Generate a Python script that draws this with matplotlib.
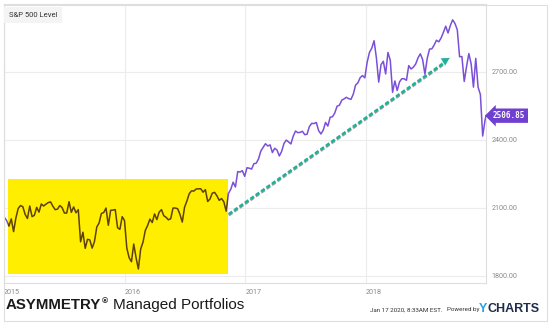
import pandas as pd
import matplotlib.pyplot as plt
import matplotlib.dates as mdates
from matplotlib.patches import Rectangle

# Weekly S&P 500 closes (Fridays), Jan 2015 - Dec 2018
close_2015 = [2058, 2044, 2019, 2051, 1995, 2055, 2097, 2110, 2105, 2071, 2053, 2108, 2061,
              2067, 2102, 2081, 2117, 2108, 2116, 2123, 2126, 2107, 2092, 2094, 2110, 2101,
              2077, 2077, 2127, 2080, 2104, 2078, 2092, 1950, 1992, 1921, 1961, 1958, 1922,
              1951, 2015, 2033, 2075, 2079, 2099, 2023, 2089, 2090, 2092, 2012, 2005, 2061]
close_2016 = [2044, 1922, 1880, 1862, 1940, 1880, 1830, 1918, 1948, 2000, 2022, 2050, 2035,
              2073, 2048, 2081, 2092, 2065, 2058, 2047, 2052, 2099, 2099, 2096, 2071, 2037,
              2103, 2130, 2162, 2175, 2174, 2183, 2184, 2184, 2169, 2180, 2128, 2139, 2165,
              2168, 2153, 2133, 2141, 2126, 2085, 2164, 2182, 2213, 2192, 2260, 2258, 2264, 2239]
close_2017 = [2277, 2275, 2271, 2295, 2297, 2316, 2351, 2367, 2383, 2373, 2378, 2344, 2363,
              2355, 2329, 2349, 2384, 2399, 2391, 2382, 2416, 2439, 2432, 2433, 2438, 2423,
              2425, 2459, 2473, 2472, 2477, 2441, 2426, 2443, 2477, 2461, 2500, 2502, 2519,
              2549, 2553, 2575, 2581, 2588, 2582, 2579, 2602, 2642, 2652, 2675, 2684, 2674]
close_2018 = [2743, 2786, 2805, 2838, 2762, 2655, 2732, 2747, 2691, 2786, 2752, 2610, 2660,
              2618, 2656, 2670, 2670, 2663, 2728, 2713, 2721, 2735, 2762, 2780, 2755, 2690,
              2760, 2801, 2802, 2819, 2840, 2833, 2850, 2875, 2902, 2872, 2905, 2930, 2914,
              2886, 2767, 2768, 2658, 2723, 2781, 2736, 2633, 2760, 2633, 2600, 2417, 2486]
last_date = "2018-12-31"
last_close = 2506.85

y_ticks = [1800, 2100, 2400, 2700]
x_ticks = ["2015", "2016", "2017", "2018"]

values = close_2015 + close_2016 + close_2017 + close_2018
dates = list(pd.date_range("2015-01-02", periods=len(values), freq="W-FRI"))
dates.append(pd.Timestamp(last_date))
values.append(last_close)
dates = pd.to_datetime(dates)

purple = "#7a4fd9"
yellow = "#ffee00"
brown = "#5e4108"
teal = "#22b098"

fig = plt.figure(figsize=(5.49, 3.24), dpi=100)
W, H = 549, 324
ax = fig.add_axes([4 / W, 1 - 283 / H, (486 - 4) / W, (283 - 4) / H])

ax.plot(dates, values, color=purple, lw=1.1, zorder=3)

# highlighted range 2015 - late 2016
box_x0 = mdates.date2num(pd.Timestamp("2015-01-14"))
box_x1 = mdates.date2num(pd.Timestamp("2016-11-10"))
box = Rectangle((box_x0, 1806), box_x1 - box_x0, 2228 - 1806,
                facecolor=yellow, edgecolor="none", zorder=4)
ax.add_patch(box)
inner, = ax.plot(dates, values, color=brown, lw=1.1, zorder=5)
inner.set_clip_path(box)

# dashed trend arrow with a soft shadow
x0 = mdates.date2num(pd.Timestamp("2016-11-12"))
x1 = mdates.date2num(pd.Timestamp("2018-08-28"))
xt = mdates.date2num(pd.Timestamp("2018-09-12"))
y0, y1, yt = 2072, 2742, 2762
dash = (0, (1.6, 0.9))
ax.plot([x0, x1], [y0 - 5, y1 - 5], color="#a0a0a0", lw=1.9, ls=dash,
        solid_capstyle="butt", zorder=5)
ax.plot([x0, x1], [y0, y1], color=teal, lw=1.9, ls=dash, zorder=6)
ax.annotate("", xy=(xt, yt), xytext=(x1 - 15, y1 - 6),
            arrowprops=dict(arrowstyle="-|>,head_length=0.55,head_width=0.3",
                            color=teal, lw=0.1, shrinkA=0, shrinkB=0),
            zorder=6)

ax.set_xlim(pd.Timestamp("2015-01-03"), pd.Timestamp("2018-12-31"))
ax.set_ylim(1768, 3000)
ax.set_yticks(y_ticks)
ax.set_yticklabels([f"{v:.2f}" for v in y_ticks])
ax.set_xticks(pd.to_datetime([f"{y}-01-01" for y in x_ticks]))
ax.set_xticklabels(x_ticks)
ax.yaxis.tick_right()
ax.tick_params(length=0, labelsize=5.2, labelcolor="#8a8a8a", pad=4)
for lab in ax.get_xticklabels() + ax.get_yticklabels():
    lab.set_family("Roboto")
for lab in ax.get_xticklabels():
    lab.set_horizontalalignment("left")
ax.grid(True, color="#ececec", lw=0.8)
ax.set_axisbelow(True)
for s in ax.spines.values():
    s.set_color("#dedede")
    s.set_linewidth(0.8)

# last value marker
ax.annotate(f"{last_close:.2f}", xy=(1.0, last_close), xycoords=ax.get_yaxis_transform(),
            xytext=(5, 0), textcoords="offset points", va="center", ha="left",
            fontsize=5.5, fontweight="bold", family="DejaVu Sans Mono", color="white",
            bbox=dict(boxstyle="larrow,pad=0.35", fc="#6f3fd0", ec="none"),
            annotation_clip=False, zorder=10)

# chart title tag
fig.text(9 / W, 1 - 15 / H, "S&P 500 Level", fontsize=5.5, family="Roboto",
         color="#333333", va="center", ha="left",
         bbox=dict(boxstyle="square,pad=0.6", fc="#f4f4f4", ec="none"))

# outer frame
fig.add_artist(Rectangle((4 / W, 3 / H), (547 - 4) / W, (320 - 4) / H,
                         transform=fig.transFigure, fill=False,
                         ec="#dedede", lw=0.8))

# footer
t1 = fig.text(6 / W, 1 - 305 / H, "ASYMMETRY", fontsize=10.8, fontweight="bold",
              family="Liberation Sans", color="#1a1a1a", va="center", ha="left")
fig.canvas.draw()
bb = t1.get_window_extent()
fig.text(bb.x1 / W, 1 - 302 / H, "®", fontsize=6, fontweight="bold",
         family="Liberation Sans", color="#1a1a1a", va="center", ha="left")
fig.text(113 / W, 1 - 305 / H, "Managed Portfolios", fontsize=11,
         family="Liberation Sans", color="#1a1a1a", va="center", ha="left")

fig.text(370 / W, 1 - 310 / H, "Jan 17 2020, 8:33AM EST.", fontsize=4.5,
         family="Roboto", color="#333333", va="center", ha="left")
fig.text(447 / W, 1 - 310 / H, "Powered by", fontsize=4.5,
         family="Roboto", color="#333333", va="center", ha="left")
fig.text(479 / W, 1 - 309 / H, "Y", fontsize=9, fontweight="bold",
         family="Liberation Sans", color="#2aa0ea", va="center", ha="left")
fig.text(487 / W, 1 - 309 / H, "CHARTS", fontsize=9, fontweight="bold",
         family="Liberation Sans", color="#1f2b4a", va="center", ha="left")

fig.savefig("out.png", dpi=100)
